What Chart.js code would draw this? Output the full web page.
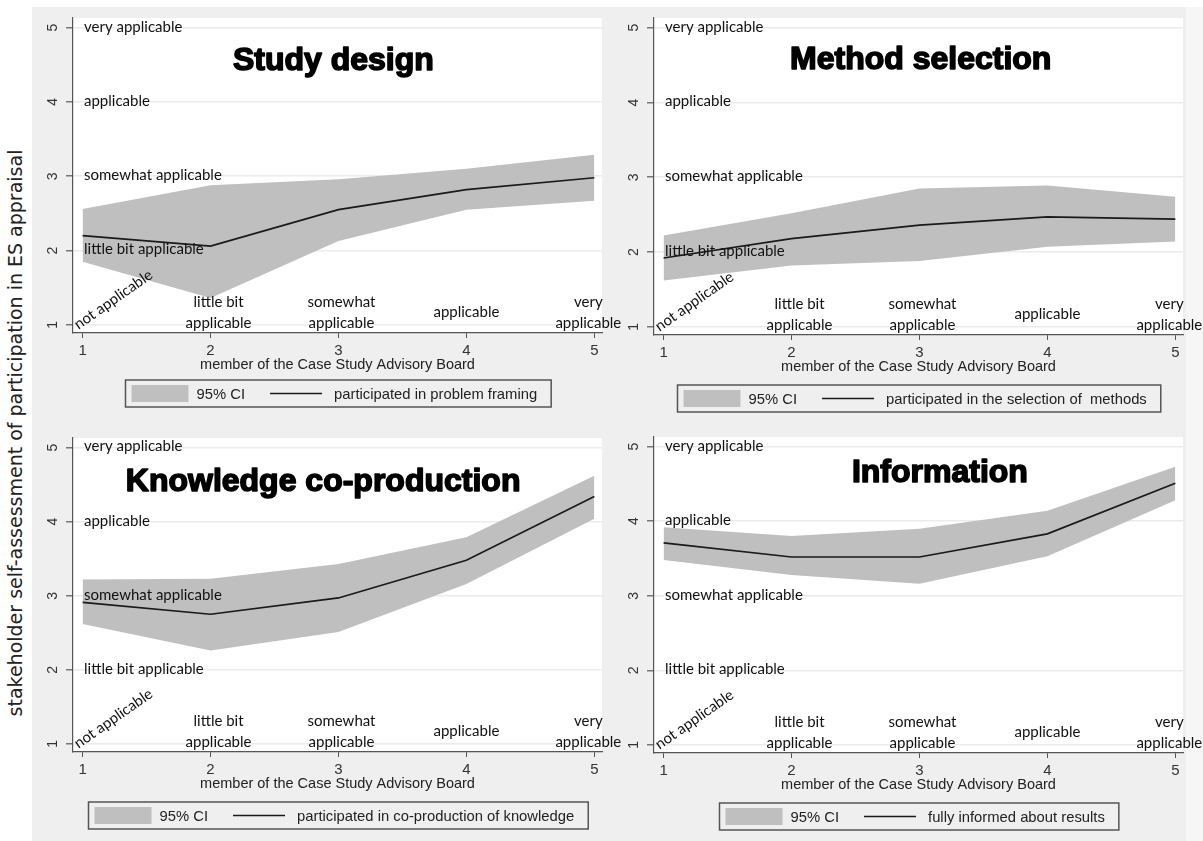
<!DOCTYPE html>
<html>
<head>
<meta charset="utf-8">
<script src="https://cdn.jsdelivr.net/npm/chart.js@4.4.1/dist/chart.umd.min.js"></script>
<style>
html, body { margin: 0; padding: 0; background: #fff; width: 1203px; height: 841px; overflow: hidden; position: relative; }
.bg { position: absolute; }
canvas { position: absolute; }
#ytitle {
    position: absolute; left: 15px; top: 433px;
    transform: translate(-50%, -50%) rotate(-90deg);
    white-space: nowrap; font: 19px "DejaVu Sans"; color: #222;
}
</style>
</head>
<body>
<div class="bg" style="left:32px;top:7px;width:1154px;height:834px;background:#efefef"></div>
<div class="bg" style="left:1186px;top:7px;width:17px;height:834px;background:#f6f6f6"></div>
<div id="ytitle">stakeholder self-assessment of participation in ES appraisal</div>
<canvas id="c1" width="600" height="411" style="left:32px;top:7px"></canvas>
<canvas id="c2" width="601" height="413" style="left:602px;top:7px"></canvas>
<canvas id="c3" width="600" height="421" style="left:32px;top:420px"></canvas>
<canvas id="c4" width="601" height="421" style="left:602px;top:420px"></canvas>
<script>
// values
const xLevels = [1, 2, 3, 4, 5];
const yTicks = [1, 2, 3, 4, 5];

const studyMean = [2.20, 2.06, 2.55, 2.82, 2.98];
const studyLow  = [1.85, 1.36, 2.13, 2.55, 2.67];
const studyHigh = [2.56, 2.88, 2.96, 3.10, 3.29];

const methodMean = [1.92, 2.18, 2.36, 2.47, 2.44];
const methodLow  = [1.62, 1.82, 1.88, 2.07, 2.14];
const methodHigh = [2.22, 2.52, 2.85, 2.89, 2.74];

const knowMean = [2.91, 2.75, 2.97, 3.48, 4.34];
const knowLow  = [2.62, 2.26, 2.51, 3.16, 4.04];
const knowHigh = [3.22, 3.23, 3.43, 3.79, 4.62];

const infoMean = [3.71, 3.52, 3.52, 3.83, 4.51];
const infoLow  = [3.48, 3.28, 3.16, 3.53, 4.28];
const infoHigh = [3.92, 3.80, 3.90, 4.14, 4.73];

const yLevelLabels = ["little bit applicable", "somewhat applicable", "applicable", "very applicable"];
const xLevelLabels = [["not applicable"], ["little bit", "applicable"], ["somewhat", "applicable"], ["applicable"], ["very", "applicable"]];
const panelTitles = ["Study design", "Method selection", "Knowledge co-production", "Information"];
const legendLabels = [
    "participated in problem framing",
    "participated in the selection of  methods",
    "participated in co-production of knowledge",
    "fully informed about results"
];
const ciLabel = "95% CI";
const xAxisTitle = "member of the Case Study Advisory Board";

// layout of each panel
const panels = [
    { id: "c1", mean: studyMean, low: studyLow, high: studyHigh, top: 11, right: 30, yW: 41, xH: 85, titleAt: [2.96, 4.55], legendGap: 47 },
    { id: "c2", mean: methodMean, low: methodLow, high: methodHigh, top: 11, right: 20, yW: 52, xH: 85, titleAt: [3.01, 4.56], legendGap: 50 },
    { id: "c3", mean: knowMean, low: knowLow, high: knowHigh, top: 18, right: 30, yW: 41, xH: 89, titleAt: [2.88, 4.54], legendGap: 50 },
    { id: "c4", mean: infoMean, low: infoLow, high: infoHigh, top: 17, right: 20, yW: 52, xH: 88, titleAt: [3.16, 4.64], legendGap: 50 }
];
const noteShift = [0, 8, 3, 0, -6];

function makeDecor(p, k) {
    return {
        id: "decor" + k,
        beforeDraw(chart) {
            const a = chart.chartArea, ctx = chart.ctx;
            ctx.save();
            ctx.fillStyle = "#fff";
            ctx.fillRect(a.left, a.top, a.right - a.left, a.bottom - a.top);
            ctx.restore();
        },
        afterDatasetDraw(chart, args) {
            if (args.index !== 1) return;
            const { ctx, chartArea: a } = chart;
            const x = chart.scales.x, y = chart.scales.y;
            ctx.save();
            ctx.fillStyle = "#111";
            ctx.font = '15px Lato';
            ctx.textBaseline = "middle";
            ctx.textAlign = "left";
            yLevelLabels.forEach((t, i) => {
                ctx.fillText(t, a.left + 11, y.getPixelForValue(yTicks[i + 1]) - 1);
            });

            ctx.save();
            ctx.translate(x.getPixelForValue(xLevels[0]) - 4, y.getPixelForValue(yTicks[0]) + 5);
            ctx.rotate(-35 * Math.PI / 180);
            ctx.textBaseline = "alphabetic";
            ctx.fillText(xLevelLabels[0][0], 0, 0);
            ctx.restore();

            ctx.textAlign = "center";
            for (let i = 1; i < xLevels.length; i++) {
                const lines = xLevelLabels[i];
                const cx = x.getPixelForValue(xLevels[i]) + noteShift[i];
                if (lines.length === 2) {
                    ctx.fillText(lines[0], cx, y.getPixelForValue(1.3));
                    ctx.fillText(lines[1], cx, y.getPixelForValue(1.02));
                } else {
                    ctx.fillText(lines[0], cx, y.getPixelForValue(1.17));
                }
            }

            // heavy title, close to Arial Black
            ctx.font = 'bold 32px "Liberation Sans"';
            ctx.fillStyle = "#000";
            ctx.strokeStyle = "#000";
            ctx.lineWidth = 1.6;
            ctx.lineJoin = "round";
            const tx = x.getPixelForValue(p.titleAt[0]), ty = y.getPixelForValue(p.titleAt[1]);
            ctx.strokeText(panelTitles[k], tx, ty);
            ctx.fillText(panelTitles[k], tx, ty);
            ctx.restore();
        },
        afterDraw(chart) {
            const { ctx, chartArea: a } = chart;
            const y = chart.scales.y;
            ctx.save();

            // rotated y tick numbers
            ctx.font = '14px "Liberation Sans"';
            ctx.fillStyle = "#333";
            yTicks.forEach(v => {
                ctx.save();
                ctx.translate(a.left - 20, y.getPixelForValue(v));
                ctx.rotate(-Math.PI / 2);
                ctx.textAlign = "center";
                ctx.textBaseline = "middle";
                ctx.fillText(String(v), 0, 0);
                ctx.restore();
            });

            const cx = (a.left + a.right) / 2;
            ctx.fillStyle = "#222";
            ctx.textAlign = "center";
            ctx.textBaseline = "middle";
            ctx.font = '14.5px "Liberation Sans"';
            ctx.fillText(xAxisTitle, cx, a.bottom + 32);

            // legend box
            ctx.font = '14.8px "Liberation Sans"';
            const band = chart.data.datasets[1], line = chart.data.datasets[0];
            const top = a.bottom + p.legendGap, h = 27;
            const w1 = ctx.measureText(ciLabel).width;
            const w2 = ctx.measureText(legendLabels[k]).width;
            const W = 6 + 57 + 8 + w1 + 25 + 52 + 12 + w2 + 14;
            const lx = Math.round(cx - W / 2) + 0.5;
            ctx.strokeStyle = "#555";
            ctx.lineWidth = 1.5;
            ctx.strokeRect(lx, top, W, h);
            ctx.fillStyle = band.backgroundColor;
            ctx.fillRect(lx + 6, top + 5, 57, 17);
            ctx.fillStyle = "#222";
            ctx.textAlign = "left";
            ctx.fillText(ciLabel, lx + 71, top + h / 2 + 1);
            const sx = lx + 71 + w1 + 25;
            ctx.strokeStyle = line.borderColor;
            ctx.lineWidth = line.borderWidth;
            ctx.beginPath();
            ctx.moveTo(sx, top + h / 2);
            ctx.lineTo(sx + 52, top + h / 2);
            ctx.stroke();
            ctx.fillText(legendLabels[k], sx + 64, top + h / 2 + 1);
            ctx.restore();
        }
    };
}

panels.forEach((p, k) => {
    const pts = arr => xLevels.map((x, i) => ({ x: x, y: arr[i] }));
    new Chart(document.getElementById(p.id), {
        type: "line",
        data: {
            datasets: [
                { label: legendLabels[k], data: pts(p.mean), borderColor: "#1a1a1a", borderWidth: 1.7, pointRadius: 0, fill: false, tension: 0 },
                { label: ciLabel, data: pts(p.high), borderColor: "transparent", borderWidth: 0, backgroundColor: "#bfbfbf", pointRadius: 0, fill: "+1", tension: 0 },
                { label: "lower", data: pts(p.low), borderColor: "transparent", borderWidth: 0, pointRadius: 0, fill: false, tension: 0 }
            ]
        },
        options: {
            responsive: false,
            animation: false,
            events: [],
            layout: { padding: { left: 0, top: p.top, right: p.right, bottom: 0 } },
            plugins: { legend: { display: false }, tooltip: { enabled: false } },
            scales: {
                x: {
                    type: "linear", min: 0.925, max: 5.06,
                    afterBuildTicks: s => { s.ticks = xLevels.map(v => ({ value: v })); },
                    afterFit: s => { s.height = p.xH; s.paddingLeft = 0; s.paddingRight = 0; },
                    grid: { drawOnChartArea: false, tickLength: 5, tickColor: "#555" },
                    border: { color: "#555", width: 1.2 },
                    ticks: { font: { family: "Liberation Sans", size: 15 }, color: "#333", padding: 4, maxRotation: 0 }
                },
                y: {
                    type: "linear", min: 0.89, max: 5.13,
                    afterBuildTicks: s => { s.ticks = yTicks.map(v => ({ value: v })); },
                    afterFit: s => { s.width = p.yW; s.paddingTop = 0; s.paddingBottom = 0; },
                    grid: { color: "#ebebeb", lineWidth: 1.5, tickLength: 7, tickColor: "#777" },
                    border: { color: "#555", width: 1.2 },
                    ticks: { display: false }
                }
            }
        },
        plugins: [makeDecor(p, k)]
    });
});
</script>
</body>
</html>
